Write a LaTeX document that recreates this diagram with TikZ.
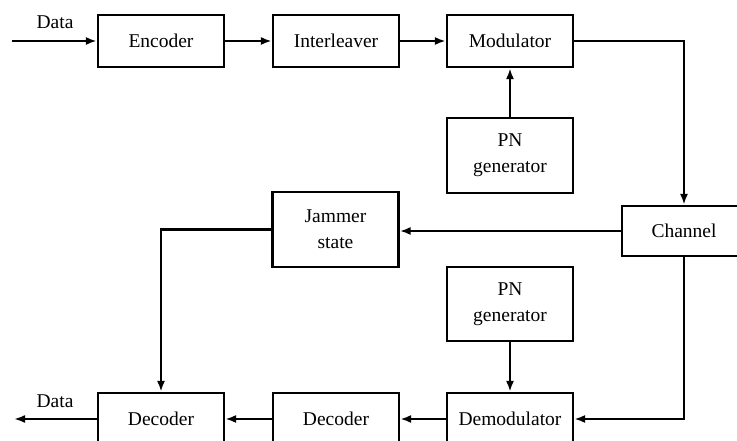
\documentclass[tikz,border=0pt]{standalone}
\usepackage{fontspec}
\setmainfont{Liberation Serif}
\usetikzlibrary{arrows.meta}
\begin{document}
\begin{tikzpicture}[x=1pt,y=-1pt,
  blk/.style={draw,line width=2.2pt,minimum width=126pt,minimum height=52pt,inner sep=0pt,align=center,font=\fontsize{19.5}{26}\selectfont},
  tall/.style={blk,minimum height=75pt},
  conn/.style={line width=2.2pt,-{Latex[length=11pt,width=8pt]}},
  lbl/.style={font=\fontsize{19.5}{22}\selectfont,inner sep=0pt}]
\useasboundingbox (0,0) rectangle (737,441);
\node[blk] (enc) at (161,41) {Encoder};
\node[blk] (int) at (336,41) {Interleaver};
\node[blk] (mod) at (510,41) {Modulator};
\node[tall] (pn1) at (510,155.5) {PN\\generator};
\node[blk,minimum width=124pt,minimum height=50pt] (ch) at (684,231) {Channel};
\node[tall] (jam) at (335.5,229.5) {Jammer\\state};
\node[tall,minimum height=74pt] (pn2) at (510,304) {PN\\generator};
\node[blk] (dem) at (510,419) {Demodulator};
\node[blk] (dec2) at (336,419) {Decoder};
\node[blk] (dec1) at (161,419) {Decoder};
\coordinate (din) at (12,41);
\coordinate (dout) at (14,419);
\node[lbl] (dl1) at (55,22) {Data};
\node[lbl] (dl2) at (55,401) {Data};
\draw[conn] (din) -- (enc.west);
\draw[conn] (enc) -- (int);
\draw[conn] (int) -- (mod);
\draw[conn] (pn1) -- (mod);
\draw[conn] (mod.east) -| (ch.north);
\draw[conn] (ch.west) -- (ch.west -| jam.east);
\draw[conn] (jam.west) -| (dec1.north);
\draw[conn] (ch.south) |- (dem.east);
\draw[conn] (pn2) -- (dem);
\draw[conn] (dem) -- (dec2);
\draw[conn] (dec2) -- (dec1);
\draw[conn] (dec1.west) -- (dout);
\end{tikzpicture}
\end{document}
